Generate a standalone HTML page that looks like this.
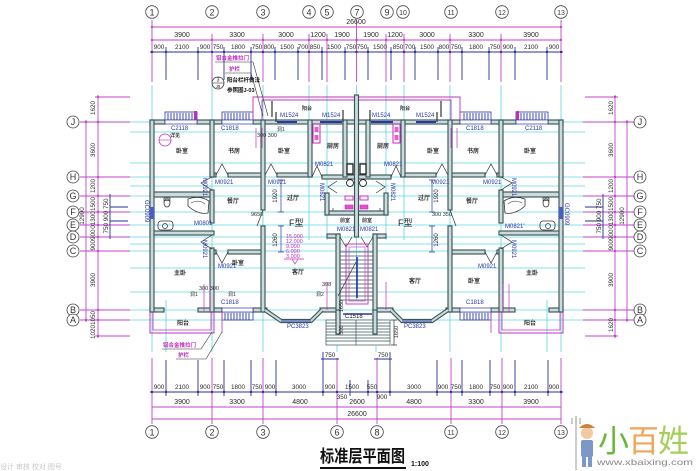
<!DOCTYPE html>
<html><head><meta charset="utf-8"><style>
html,body{margin:0;padding:0;background:#fff;}
svg{display:block;}
.w rect{fill:#cbdbdc;stroke:#3a5558;stroke-width:1.15;}
.c line{stroke:#5fd6de;stroke-width:0.8;}
.m{stroke:#c044c8;stroke-width:0.9;fill:none;}
.b{stroke:#2a2f95;stroke-width:0.9;fill:none;}
.d{stroke:#333;stroke-width:0.7;fill:none;}
text{font-family:"Liberation Sans","Noto Sans CJK SC",sans-serif;}
.n{font-size:7px;fill:#2a2a2a;}
.bl{font-size:6px;fill:#2838a8;}
.r{font-size:6px;fill:#333;font-weight:bold;font-family:"Noto Sans CJK SC",sans-serif;}
.mt{font-size:5.5px;fill:#c030c0;font-weight:bold;font-family:"Noto Sans CJK SC",sans-serif;}
.ax{font-size:9px;fill:#333;font-family:"Liberation Serif",serif;}
</style></head><body>
<svg width="700" height="471" viewBox="0 0 700 471" xmlns="http://www.w3.org/2000/svg">
<rect width="700" height="471" fill="#fff"/>

<!-- cyan axis grid -->
<g class="c">
<line x1="152" y1="85" x2="152" y2="352"/><line x1="212" y1="85" x2="212" y2="352"/><line x1="263" y1="85" x2="263" y2="352"/>
<line x1="309" y1="85" x2="309" y2="240"/><line x1="327" y1="85" x2="327" y2="240"/><line x1="337" y1="240" x2="337" y2="352"/>
<line x1="356.5" y1="85" x2="356.5" y2="300"/><line x1="376" y1="240" x2="376" y2="352"/>
<line x1="386" y1="85" x2="386" y2="240"/><line x1="404" y1="85" x2="404" y2="240"/>
<line x1="450" y1="85" x2="450" y2="352"/><line x1="501" y1="85" x2="501" y2="352"/><line x1="561" y1="85" x2="561" y2="352"/>
<line x1="166" y1="300" x2="166" y2="352"/><line x1="547" y1="300" x2="547" y2="352"/>
<line x1="130" y1="122" x2="585" y2="122"/><line x1="130" y1="177" x2="585" y2="177"/><line x1="130" y1="196" x2="585" y2="196"/>
<line x1="130" y1="212" x2="585" y2="212"/><line x1="130" y1="225" x2="585" y2="225"/><line x1="130" y1="237" x2="585" y2="237"/>
<line x1="130" y1="251" x2="585" y2="251"/><line x1="130" y1="310" x2="585" y2="310"/><line x1="130" y1="320" x2="585" y2="320"/>
<line x1="130" y1="132" x2="585" y2="132"/><line x1="130" y1="163" x2="585" y2="163"/><line x1="130" y1="186" x2="585" y2="186"/>
<line x1="130" y1="244" x2="585" y2="244"/><line x1="130" y1="268" x2="585" y2="268"/><line x1="130" y1="292" x2="585" y2="292"/>
</g>

<!-- ========== TOP DIMENSIONS ========== -->
<g class="m">
<line x1="152" y1="27" x2="561" y2="27"/><line x1="152" y1="40" x2="561" y2="40"/>
<line x1="152" y1="20" x2="152" y2="82"/><line x1="212" y1="34" x2="212" y2="82"/><line x1="263" y1="34" x2="263" y2="82"/>
<line x1="309" y1="34" x2="309" y2="82"/><line x1="327" y1="34" x2="327" y2="82"/><line x1="356.5" y1="20" x2="356.5" y2="82"/>
<line x1="386" y1="34" x2="386" y2="82"/><line x1="404" y1="34" x2="404" y2="82"/><line x1="450" y1="34" x2="450" y2="82"/>
<line x1="501" y1="34" x2="501" y2="82"/><line x1="561" y1="20" x2="561" y2="82"/>
</g>
<g class="b">
<line x1="150" y1="52" x2="563" y2="52"/>
<line x1="166" y1="47" x2="166" y2="80"/><line x1="198" y1="47" x2="198" y2="80"/><line x1="224" y1="47" x2="224" y2="80"/>
<line x1="251" y1="47" x2="251" y2="80"/><line x1="275" y1="47" x2="275" y2="80"/><line x1="298" y1="47" x2="298" y2="80"/>
<line x1="322" y1="47" x2="322" y2="80"/><line x1="345" y1="47" x2="345" y2="80"/><line x1="368" y1="47" x2="368" y2="80"/>
<line x1="391" y1="47" x2="391" y2="80"/><line x1="415" y1="47" x2="415" y2="80"/><line x1="438" y1="47" x2="438" y2="80"/>
<line x1="462" y1="47" x2="462" y2="80"/><line x1="489" y1="47" x2="489" y2="80"/><line x1="515" y1="47" x2="515" y2="80"/>
<line x1="547" y1="47" x2="547" y2="80"/>
</g>
<g fill="#2a2f95">
<circle cx="152" cy="52" r="1.2"/><circle cx="166" cy="52" r="1.2"/><circle cx="198" cy="52" r="1.2"/><circle cx="212" cy="52" r="1.2"/><circle cx="224" cy="52" r="1.2"/><circle cx="251" cy="52" r="1.2"/><circle cx="263" cy="52" r="1.2"/><circle cx="275" cy="52" r="1.2"/><circle cx="298" cy="52" r="1.2"/><circle cx="309" cy="52" r="1.2"/><circle cx="322" cy="52" r="1.2"/><circle cx="345" cy="52" r="1.2"/><circle cx="356.5" cy="52" r="1.2"/><circle cx="368" cy="52" r="1.2"/><circle cx="391" cy="52" r="1.2"/><circle cx="404" cy="52" r="1.2"/><circle cx="415" cy="52" r="1.2"/><circle cx="438" cy="52" r="1.2"/><circle cx="450" cy="52" r="1.2"/><circle cx="462" cy="52" r="1.2"/><circle cx="489" cy="52" r="1.2"/><circle cx="501" cy="52" r="1.2"/><circle cx="515" cy="52" r="1.2"/><circle cx="547" cy="52" r="1.2"/><circle cx="561" cy="52" r="1.2"/>
</g>
<g fill="#c044c8">
<circle cx="152" cy="40" r="1.2"/><circle cx="212" cy="40" r="1.2"/><circle cx="263" cy="40" r="1.2"/><circle cx="309" cy="40" r="1.2"/><circle cx="327" cy="40" r="1.2"/><circle cx="356.5" cy="40" r="1.2"/><circle cx="386" cy="40" r="1.2"/><circle cx="404" cy="40" r="1.2"/><circle cx="450" cy="40" r="1.2"/><circle cx="501" cy="40" r="1.2"/><circle cx="561" cy="40" r="1.2"/><circle cx="152" cy="27" r="1.2"/><circle cx="561" cy="27" r="1.2"/>
</g>
<text class="n" x="356" y="24" text-anchor="middle">26600</text>
<g class="n" text-anchor="middle">
<text x="182" y="37">3900</text><text x="237" y="37">3300</text><text x="286" y="37">3000</text><text x="318" y="37">1200</text><text x="342" y="37">1900</text>
<text x="371" y="37">1900</text><text x="395" y="37">1200</text><text x="427" y="37">3000</text><text x="476" y="37">3300</text><text x="531" y="37">3900</text>
</g>
<g class="n" text-anchor="middle" font-size="6.3">
<text x="159" y="49" font-size="6.3">900</text><text x="182" y="49" font-size="6.3">2100</text><text x="205" y="49" font-size="6.3">900</text><text x="218" y="49" font-size="6.3">750</text>
<text x="238" y="49" font-size="6.3">1800</text><text x="257" y="49" font-size="6.3">750</text><text x="269" y="49" font-size="6.3">800</text><text x="287" y="49" font-size="6.3">1500</text>
<text x="303" y="49" font-size="6.3">700</text><text x="315" y="49" font-size="6.3">850</text><text x="334" y="49" font-size="6.3">1500</text><text x="351" y="49" font-size="6.3">750</text>
<text x="362" y="49" font-size="6.3">750</text><text x="380" y="49" font-size="6.3">1500</text><text x="398" y="49" font-size="6.3">850</text><text x="410" y="49" font-size="6.3">700</text>
<text x="427" y="49" font-size="6.3">1500</text><text x="444" y="49" font-size="6.3">800</text><text x="456" y="49" font-size="6.3">750</text><text x="476" y="49" font-size="6.3">1800</text>
<text x="495" y="49" font-size="6.3">750</text><text x="508" y="49" font-size="6.3">900</text><text x="531" y="49" font-size="6.3">2100</text><text x="554" y="49" font-size="6.3">900</text>
</g>
<!-- top axis circles -->
<g fill="#fff" stroke="#444" stroke-width="0.8">
<circle cx="152" cy="12" r="6.3"/><circle cx="212" cy="12" r="6.3"/><circle cx="263" cy="12" r="6.3"/><circle cx="309" cy="12" r="6.3"/><circle cx="327" cy="12" r="6.3"/><circle cx="357" cy="12" r="6.3"/>
<circle cx="387" cy="12" r="6.3"/><circle cx="403" cy="12" r="6.3"/><circle cx="451" cy="12" r="6.3"/><circle cx="502" cy="12" r="6.3"/><circle cx="561" cy="12" r="6.3"/>
</g>
<g class="ax" text-anchor="middle">
<text x="152" y="15.5">1</text><text x="212" y="15.5">2</text><text x="263" y="15.5">3</text><text x="309" y="15.5">4</text><text x="327" y="15.5">5</text><text x="357" y="15.5">7</text>
<text x="387" y="15.5">9</text><text x="403" y="15" font-size="7">10</text><text x="451" y="15" font-size="7">11</text><text x="502" y="15" font-size="7">12</text><text x="561" y="15" font-size="7">13</text>
</g>

<!-- ========== LEFT / RIGHT DIMENSIONS ========== -->
<g class="m">
<line x1="80" y1="122" x2="130" y2="122"/><line x1="80" y1="177" x2="130" y2="177"/><line x1="80" y1="196" x2="130" y2="196"/>
<line x1="80" y1="212" x2="130" y2="212"/><line x1="80" y1="225" x2="130" y2="225"/><line x1="80" y1="237" x2="130" y2="237"/>
<line x1="80" y1="251" x2="130" y2="251"/><line x1="80" y1="310" x2="130" y2="310"/><line x1="80" y1="320" x2="130" y2="320"/>
<line x1="95" y1="97" x2="130" y2="97"/><line x1="95" y1="336" x2="130" y2="336"/>
<line x1="98" y1="95" x2="98" y2="338"/><line x1="86" y1="120" x2="86" y2="322"/>
<line x1="583" y1="122" x2="634" y2="122"/><line x1="583" y1="177" x2="634" y2="177"/><line x1="583" y1="196" x2="634" y2="196"/>
<line x1="583" y1="212" x2="634" y2="212"/><line x1="583" y1="225" x2="634" y2="225"/><line x1="583" y1="237" x2="634" y2="237"/>
<line x1="583" y1="251" x2="634" y2="251"/><line x1="583" y1="310" x2="634" y2="310"/><line x1="583" y1="320" x2="634" y2="320"/>
<line x1="585" y1="97" x2="618" y2="97"/><line x1="585" y1="336" x2="618" y2="336"/>
<line x1="615" y1="95" x2="615" y2="338"/><line x1="627" y1="120" x2="627" y2="322"/>
</g>
<g class="b">
<line x1="110" y1="194" x2="110" y2="239"/><line x1="110" y1="207" x2="128" y2="207"/><line x1="110" y1="221" x2="128" y2="221"/>
<line x1="603" y1="194" x2="603" y2="239"/><line x1="585" y1="207" x2="603" y2="207"/><line x1="585" y1="221" x2="603" y2="221"/>
</g>
<g fill="#c044c8">
<circle cx="98" cy="97" r="1.2"/><circle cx="98" cy="122" r="1.2"/><circle cx="98" cy="177" r="1.2"/><circle cx="98" cy="196" r="1.2"/><circle cx="98" cy="212" r="1.2"/><circle cx="98" cy="225" r="1.2"/><circle cx="98" cy="237" r="1.2"/><circle cx="98" cy="251" r="1.2"/><circle cx="98" cy="310" r="1.2"/><circle cx="98" cy="320" r="1.2"/><circle cx="98" cy="336" r="1.2"/>
<circle cx="86" cy="122" r="1.2"/><circle cx="86" cy="320" r="1.2"/>
<circle cx="615" cy="97" r="1.2"/><circle cx="615" cy="122" r="1.2"/><circle cx="615" cy="177" r="1.2"/><circle cx="615" cy="196" r="1.2"/><circle cx="615" cy="212" r="1.2"/><circle cx="615" cy="225" r="1.2"/><circle cx="615" cy="237" r="1.2"/><circle cx="615" cy="251" r="1.2"/><circle cx="615" cy="310" r="1.2"/><circle cx="615" cy="320" r="1.2"/><circle cx="615" cy="336" r="1.2"/>
<circle cx="627" cy="122" r="1.2"/><circle cx="627" cy="320" r="1.2"/>
</g>
<g class="n" text-anchor="middle" font-size="6.3">
<text transform="rotate(-90 95 108)" x="95" y="108" font-size="6.3">1620</text>
<text transform="rotate(-90 95 150)" x="95" y="150" font-size="6.3">3600</text>
<text transform="rotate(-90 95 186)" x="95" y="186" font-size="6.3">1200</text>
<text transform="rotate(-90 95 204)" x="95" y="204" font-size="6.3">1500</text>
<text transform="rotate(-90 95 220)" x="95" y="220" font-size="6.3">01300</text>
<text transform="rotate(-90 95 240)" x="95" y="240" font-size="6.3">900900</text>
<text transform="rotate(-90 95 280)" x="95" y="280" font-size="6.3">3900</text>
<text transform="rotate(-90 95 325)" x="95" y="325" font-size="6.3">10201050</text>
<text transform="rotate(-90 84 216)" x="84" y="216" font-size="6.3">12900</text>
<text transform="rotate(-90 108 216)" x="108" y="216" font-size="6.3">750 900 750</text>
<text transform="rotate(-90 613 108)" x="613" y="108" font-size="6.3">1620</text>
<text transform="rotate(-90 613 150)" x="613" y="150" font-size="6.3">3600</text>
<text transform="rotate(-90 613 186)" x="613" y="186" font-size="6.3">1200</text>
<text transform="rotate(-90 613 204)" x="613" y="204" font-size="6.3">1500</text>
<text transform="rotate(-90 613 220)" x="613" y="220" font-size="6.3">01300</text>
<text transform="rotate(-90 613 240)" x="613" y="240" font-size="6.3">900900</text>
<text transform="rotate(-90 613 280)" x="613" y="280" font-size="6.3">3900</text>
<text transform="rotate(-90 613 325)" x="613" y="325" font-size="6.3">1620</text>
<text transform="rotate(-90 624 216)" x="624" y="216" font-size="6.3">12900</text>
<text transform="rotate(-90 601 216)" x="601" y="216" font-size="6.3">750 900 750</text>
</g>
<g fill="#fff" stroke="#444" stroke-width="0.8">
<circle cx="73" cy="122" r="6"/><circle cx="73" cy="177" r="6"/><circle cx="73" cy="196" r="6"/><circle cx="73" cy="212" r="6"/><circle cx="73" cy="225" r="6"/><circle cx="73" cy="237" r="6"/><circle cx="73" cy="251" r="6"/><circle cx="73" cy="310" r="6"/><circle cx="73" cy="320" r="6"/>
<circle cx="640" cy="122" r="6"/><circle cx="640" cy="177" r="6"/><circle cx="640" cy="196" r="6"/><circle cx="640" cy="212" r="6"/><circle cx="640" cy="225" r="6"/><circle cx="640" cy="237" r="6"/><circle cx="640" cy="251" r="6"/><circle cx="640" cy="310" r="6"/><circle cx="640" cy="320" r="6"/>
</g>
<g class="ax" text-anchor="middle" font-size="8.5">
<text x="73" y="125">J</text><text x="73" y="180">H</text><text x="73" y="199">G</text><text x="73" y="215">F</text><text x="73" y="228">E</text><text x="73" y="240">D</text><text x="73" y="254">C</text><text x="73" y="313">B</text><text x="73" y="323">A</text>
<text x="640" y="125">J</text><text x="640" y="180">H</text><text x="640" y="199">G</text><text x="640" y="215">F</text><text x="640" y="228">E</text><text x="640" y="240">D</text><text x="640" y="254">C</text><text x="640" y="313">B</text><text x="640" y="323">A</text>
</g>

<!-- ========== BOTTOM DIMENSIONS ========== -->
<g class="m">
<line x1="152" y1="407" x2="561" y2="407"/><line x1="152" y1="419" x2="561" y2="419"/>
<line x1="152" y1="358" x2="152" y2="424"/><line x1="212" y1="358" x2="212" y2="424"/><line x1="263" y1="358" x2="263" y2="424"/>
<line x1="337" y1="358" x2="337" y2="424"/><line x1="377" y1="358" x2="377" y2="424"/><line x1="451" y1="358" x2="451" y2="424"/>
<line x1="502" y1="358" x2="502" y2="424"/><line x1="561" y1="358" x2="561" y2="424"/>
</g>
<g class="b">
<line x1="150" y1="392" x2="563" y2="392"/>
<line x1="166" y1="360" x2="166" y2="396"/><line x1="198" y1="360" x2="198" y2="396"/><line x1="224" y1="360" x2="224" y2="396"/>
<line x1="251" y1="360" x2="251" y2="396"/><line x1="276" y1="360" x2="276" y2="396"/><line x1="323" y1="352" x2="323" y2="396"/>
<line x1="350" y1="380" x2="350" y2="396"/><line x1="368" y1="380" x2="368" y2="396"/><line x1="390" y1="352" x2="390" y2="396"/>
<line x1="437" y1="360" x2="437" y2="396"/><line x1="462" y1="360" x2="462" y2="396"/><line x1="490" y1="360" x2="490" y2="396"/>
<line x1="515" y1="360" x2="515" y2="396"/><line x1="548" y1="360" x2="548" y2="396"/>
<line x1="321" y1="359" x2="339" y2="359"/><line x1="374" y1="359" x2="392" y2="359"/>
</g>
<g fill="#2a2f95">
<circle cx="152" cy="392" r="1.2"/><circle cx="166" cy="392" r="1.2"/><circle cx="198" cy="392" r="1.2"/><circle cx="212" cy="392" r="1.2"/><circle cx="224" cy="392" r="1.2"/><circle cx="251" cy="392" r="1.2"/><circle cx="263" cy="392" r="1.2"/><circle cx="276" cy="392" r="1.2"/><circle cx="323" cy="392" r="1.2"/><circle cx="337" cy="392" r="1.2"/><circle cx="368" cy="392" r="1.2"/><circle cx="377" cy="392" r="1.2"/><circle cx="390" cy="392" r="1.2"/><circle cx="437" cy="392" r="1.2"/><circle cx="451" cy="392" r="1.2"/><circle cx="462" cy="392" r="1.2"/><circle cx="490" cy="392" r="1.2"/><circle cx="502" cy="392" r="1.2"/><circle cx="515" cy="392" r="1.2"/><circle cx="548" cy="392" r="1.2"/><circle cx="561" cy="392" r="1.2"/>
</g>
<g class="n" text-anchor="middle" font-size="6.3">
<text x="159" y="389" font-size="6.3">900</text><text x="182" y="389" font-size="6.3">2100</text><text x="205" y="389" font-size="6.3">900</text><text x="218" y="389" font-size="6.3">750</text>
<text x="238" y="389" font-size="6.3">1800</text><text x="257" y="389" font-size="6.3">750</text><text x="270" y="389" font-size="6.3">900</text><text x="299" y="389" font-size="6.3">3000</text>
<text x="330" y="389" font-size="6.3">900</text><text x="352" y="389" font-size="6.3">1500</text><text x="372" y="389" font-size="6.3">550</text><text x="382" y="399" font-size="6.3">900</text><text x="342" y="399" font-size="6.3">350</text>
<text x="414" y="389" font-size="6.3">3000</text><text x="443" y="389" font-size="6.3">900</text><text x="456" y="389" font-size="6.3">750</text><text x="476" y="389" font-size="6.3">1800</text>
<text x="495" y="389" font-size="6.3">750</text><text x="508" y="389" font-size="6.3">900</text><text x="531" y="389" font-size="6.3">2100</text><text x="554" y="389" font-size="6.3">900</text>
<text x="330" y="357" font-size="6.3">750</text><text x="383" y="357" font-size="6.3">750</text>
</g>
<g class="n" text-anchor="middle">
<text x="182" y="404">3900</text><text x="237" y="404">3300</text><text x="300" y="404">4800</text><text x="357" y="404">2600</text>
<text x="414" y="404">4800</text><text x="476" y="404">3300</text><text x="531" y="404">3900</text><text x="357" y="416">26600</text>
</g>
<g fill="#fff" stroke="#444" stroke-width="0.8">
<circle cx="152" cy="432" r="6.3"/><circle cx="212" cy="432" r="6.3"/><circle cx="263" cy="432" r="6.3"/><circle cx="337" cy="432" r="6.3"/>
<circle cx="377" cy="432" r="6.3"/><circle cx="451" cy="432" r="6.3"/><circle cx="502" cy="432" r="6.3"/><circle cx="561" cy="432" r="6.3"/>
</g>
<g class="ax" text-anchor="middle">
<text x="152" y="435.5">1</text><text x="212" y="435.5">2</text><text x="263" y="435.5">3</text><text x="337" y="435.5">6</text>
<text x="377" y="435.5">8</text><text x="451" y="435" font-size="7">11</text><text x="502" y="435" font-size="7">12</text><text x="561" y="435" font-size="7">13</text>
</g>

<!-- ========== PLAN GEOMETRY (left half, mirrored) ========== -->
<defs>
<g id="half">
 <g stroke="#2838a8" stroke-width="0.8" fill="#fff">
  <rect x="165" y="112" width="32" height="8"/><rect x="222" y="112" width="31" height="8"/>
  <rect x="222" y="312" width="31" height="8"/>
 </g>
 <g stroke="#2838a8" stroke-width="0.9">
  <path d="M168 113v7M171 113v7M174 113v7M177 113v7M180 113v7M183 113v7M186 113v7M189 113v7M192 113v7"/>
  <path d="M225 113v7M228 113v7M231 113v7M234 113v7M237 113v7M240 113v7M243 113v7M246 113v7M249 113v7"/>
  <path d="M225 313v7M228 313v7M231 313v7M234 313v7M237 313v7M240 313v7M243 313v7M246 313v7M249 313v7"/>
 </g>
 <rect x="194" y="111" width="3" height="11" fill="#c030c0"/>
 <g class="w">
  <rect x="150" y="120" width="15" height="4"/><rect x="197" y="120" width="25" height="4"/><rect x="253" y="120" width="104" height="4"/>
  <rect x="150" y="192" width="64" height="5"/><rect x="150" y="231" width="64" height="4"/>
  <rect x="210" y="173" width="6" height="4"/><rect x="228" y="173" width="37" height="4"/><rect x="277" y="173" width="35" height="4"/>
  <rect x="322" y="175" width="34" height="4"/><rect x="325" y="211" width="31" height="4"/>
  <rect x="210" y="250" width="6" height="4"/><rect x="228" y="250" width="37" height="4"/>
  <rect x="327" y="234" width="13" height="4"/>
  <rect x="150" y="308" width="14" height="4"/><rect x="198" y="308" width="24" height="4"/><rect x="253" y="308" width="14" height="4"/><rect x="320" y="308" width="20" height="4"/>
  <rect x="150" y="120" width="4" height="192"/>
  <rect x="210" y="120" width="4" height="57"/><rect x="210" y="190" width="4" height="33"/><rect x="210" y="248" width="4" height="64"/>
  <rect x="261" y="120" width="4" height="90"/><rect x="261" y="226" width="4" height="86"/>
  <rect x="308" y="120" width="4" height="57"/><rect x="343" y="120" width="4" height="57"/>
  <rect x="325" y="193" width="4" height="22"/>
  <rect x="336" y="234" width="4" height="98"/>
 </g>
 <g fill="#fff" stroke="#2838a8" stroke-width="0.7">
  <rect x="165" y="120" width="32" height="4"/><rect x="222" y="120" width="31" height="4"/><rect x="222" y="308" width="31" height="4"/>
 </g>
 <rect x="150" y="207" width="4" height="12" fill="#4a5cc8"/>
 <path d="M277 122h20M320 122h22" stroke="#2838a8" stroke-width="2"/>
 <path d="M276 112v10M343 110v12" stroke="#333" stroke-width="1.2"/>
 <path d="M265 310 L281 321 L311 321 L322 310" fill="none" stroke="#3a5558" stroke-width="4.2"/>
 <path d="M265 310 L281 321 L311 321 L322 310" fill="none" stroke="#cbdbdc" stroke-width="2"/>
 <path d="M281 321 L311 321" stroke="#2838a8" stroke-width="1"/>
 <g class="d">
  <path d="M216 175 L222 164 L228 175"/><path d="M265 175 L271 164 L277 175"/><path d="M312 177 L317 166 L322 177"/>
  <path d="M212 177 L201 183 L212 190"/><path d="M212 235 L201 242 L212 249"/><path d="M216 252 L222 263 L228 252"/>
  <path d="M337 181 L328 187 L337 193"/><path d="M340 237 L346 247 L352 237"/><path d="M263 210 L257 226"/>
 </g>
 <ellipse cx="167" cy="203" rx="3" ry="4" fill="none" stroke="#333" stroke-width="0.8"/>
 <rect x="164" y="198" width="6" height="2.5" fill="none" stroke="#333" stroke-width="0.7"/>
 <rect x="158" y="221" width="15" height="9" rx="3" fill="none" stroke="#333" stroke-width="0.8"/>
 <circle cx="165" cy="226" r="2.5" fill="none" stroke="#333" stroke-width="0.7"/>
 <path d="M188 199 Q200 195 209 201 L208 213 Q198 215 188 206 Z" fill="#fff" stroke="#333" stroke-width="0.8"/>
 <path d="M191 203 Q199 199 205 204" fill="none" stroke="#555" stroke-width="0.6"/>
 <rect x="313" y="124" width="7" height="19" fill="none" stroke="#d020c0" stroke-width="1"/>
 <rect x="314.5" y="127" width="4" height="5" fill="#e060d0"/><rect x="314.5" y="135" width="4" height="5" fill="#e060d0"/>
 <rect x="347" y="164" width="6" height="10" fill="#fff" stroke="#222" stroke-width="1.3"/>
 <circle cx="350" cy="183" r="3.5" fill="#fff" stroke="#222" stroke-width="0.9"/>
 <rect x="345" y="196" width="8" height="4" fill="none" stroke="#d020c0" stroke-width="0.9"/>
 <rect x="345" y="205" width="8" height="4" fill="#e050d0" stroke="#d020c0" stroke-width="0.6"/>
 <path d="M333 208v3" stroke="#333" stroke-width="0.7"/>
 <path d="M150 312 V333 H214 V312" fill="none" stroke="#c030c0" stroke-width="1"/>
 <path d="M153 312 V330 H211 V312" fill="none" stroke="#c030c0" stroke-width="0.8"/>
 <path d="M222 312 V333" stroke="#c030c0" stroke-width="0.8"/>
 <path d="M253 120 V97 H357" fill="none" stroke="#c030c0" stroke-width="0.9"/>
 <path d="M262 120 V100 H357" fill="none" stroke="#c030c0" stroke-width="0.9"/>
 <path d="M272 101 V117" stroke="#333" stroke-width="1.2"/>
 <path d="M281 180 V212 M281 226 V252" stroke="#2838a8" stroke-width="0.7"/>
 <path d="M278 180 H284 M278 212 H284 M278 226 H284 M278 252 H284" stroke="#2838a8" stroke-width="0.7"/>
 <path d="M204 284 V312 M210 284 V312 M327 282 V310" stroke="#c030c0" stroke-width="0.7"/>
 <path d="M256 128 V148 M262 128 V148" stroke="#c030c0" stroke-width="0.7"/>
</g>
</defs>
<use href="#half"/>
<use href="#half" transform="translate(713,0) scale(-1,1)"/>

<!-- detail callout in top-left bedroom only -->
<circle cx="165" cy="140" r="6" fill="none" stroke="#c030c0" stroke-width="0.8"/>
<path d="M159 140 H171" stroke="#c030c0" stroke-width="0.6"/>

<rect x="354.5" y="95" width="4" height="142" fill="#cbdbdc" stroke="#3a5558" stroke-width="1.15"/>

<!-- stair -->
<g stroke="#3a5558" stroke-width="0.7">
<path d="M340 252H373M340 256H373M340 260H373M340 264H373M340 268H373M340 272H373M340 276H373M340 280H373M340 284H373M340 288H373M340 292H373M340 296H373M340 300H373"/>
</g>
<rect x="346" y="244" width="22" height="60" fill="none" stroke="#c030c0" stroke-width="0.9"/>
<rect x="349" y="247" width="16" height="54" fill="none" stroke="#c030c0" stroke-width="0.6"/>
<path d="M357 257V298" stroke="#2030c0" stroke-width="1.6"/>
<path d="M338 296 L356 262" stroke="#333" stroke-width="0.7"/>
<g stroke="#3a5558" stroke-width="0.7" fill="none">
<rect x="326" y="320" width="64" height="25" fill="#fff"/>
<path d="M326 323H390M326 326H390M326 329H390M326 332H390M326 335H390M326 338H390M326 341H390M356 320V345"/>
</g>
<rect x="336" y="310" width="4" height="24" fill="#cbdbdc" stroke="#3a5558" stroke-width="1.15"/>
<rect x="373" y="310" width="4" height="24" fill="#cbdbdc" stroke="#3a5558" stroke-width="1.15"/>
<path d="M343 314 H372" stroke="#2838a8" stroke-width="1.5"/>
<path d="M394 320 V345 M391 320 H397 M391 345 H397" stroke="#333" stroke-width="0.7"/>

<!-- ========== LABELS ========== -->
<g class="bl">
<text x="171" y="130">C2118</text><text x="221" y="130">C1818</text><text x="280" y="117">M1524</text><text x="322" y="117">M1524</text>
<text x="372" y="117">M1524</text><text x="416" y="117">M1524</text><text x="466" y="130">C1818</text><text x="525" y="130">C2118</text>
<text x="215" y="184">M0921</text><text x="268" y="184">M0921</text><text x="315" y="166">M0821</text><text x="384" y="166">M0821</text>
<text x="431" y="184">M0921</text><text x="483" y="184">M0921</text>
<text x="194" y="225">M0801</text><text x="505" y="228">M0821'</text>
<text x="218" y="268">M0921</text><text x="478" y="268">M0921</text>
<text x="337" y="231">M0821</text><text x="360" y="231">M0821</text>
<text x="221" y="304">C1818</text><text x="466" y="304">C1818</text>
<text x="287" y="328">PC3823</text><text x="404" y="328">PC3823</text>
<text x="345" y="318" fill="#222">C1518</text>
<text transform="rotate(90 145 200)" x="145" y="200">GC0909</text>
<text transform="rotate(90 565 203)" x="565" y="203">GC0909</text>
<text transform="rotate(90 203 178)" x="203" y="178">M0921</text>
<text transform="rotate(90 203 240)" x="203" y="240">M0921</text>
<text transform="rotate(90 320 183)" x="320" y="183">M0821</text>
<text transform="rotate(90 391 183)" x="391" y="183">M0821</text>
<text transform="rotate(90 512 178)" x="512" y="178">M0921</text>
<text transform="rotate(90 512 240)" x="512" y="240">M0921</text>
</g>
<g class="n" font-size="6">
<text transform="rotate(-90 277 196)" x="277" y="196" text-anchor="middle" font-size="6">1920</text>
<text transform="rotate(-90 277 240)" x="277" y="240" text-anchor="middle" font-size="6">1260</text>
<text transform="rotate(-90 438 196)" x="438" y="196" text-anchor="middle" font-size="6">1920</text>
<text transform="rotate(-90 438 240)" x="438" y="240" text-anchor="middle" font-size="6">1260</text>
<text transform="rotate(-90 343 306)" x="343" y="306" text-anchor="middle" font-size="5.5">1650</text>
<text transform="rotate(-90 343 330)" x="343" y="330" text-anchor="middle" font-size="5.5">300</text>
<text transform="rotate(-90 398 332)" x="398" y="332" text-anchor="middle" font-size="5.5">1650</text>
<text x="251" y="216" font-size="5.5">9650</text><text x="432" y="216" font-size="5.5">300 350</text>
<text x="257" y="137" font-size="5.5">300 300</text><text x="199" y="290" font-size="5.5">300 300</text><text x="322" y="286" font-size="5.5">308</text>
<text x="190" y="296" font-size="5">洞1</text><text x="228" y="296" font-size="5">洞1</text><text x="316" y="296" font-size="5">洞2</text><text x="277" y="131" font-size="5">洞1</text>
</g>
<g class="r">
<text x="176" y="153">卧室</text><text x="228" y="153">书房</text><text x="278" y="153">卧室</text><text x="327" y="148">厨房</text>
<text x="377" y="148">厨房</text><text x="427" y="153">卧室</text><text x="467" y="153">书房</text><text x="524" y="153">卧室</text>
<text x="227" y="203">餐厅</text><text x="287" y="200">过厅</text><text x="418" y="200">过厅</text><text x="466" y="203">餐厅</text>
<text x="174" y="275">主卧</text><text x="232" y="265">卧室</text><text x="292" y="274">客厅</text>
<text x="409" y="283">客厅</text><text x="468" y="283">卧室</text><text x="526" y="275">主卧</text>
<text x="177" y="325">阳台</text><text x="524" y="325">阳台</text>
<text x="340" y="222" font-size="5">前室</text><text x="362" y="222" font-size="5">前室</text>
<text x="302" y="110" font-size="5">阳台</text><text x="400" y="110" font-size="5">阳台</text>
<text x="170" y="137" font-size="5">详见</text>
</g>
<text x="289" y="226" font-size="9" fill="#222" font-family="Noto Sans CJK SC, sans-serif">F型</text>
<text x="398" y="226" font-size="9" fill="#222" font-family="Noto Sans CJK SC, sans-serif">F型</text>
<g fill="#c030c0" font-size="5.5" font-family="Liberation Sans, sans-serif">
<text x="286" y="238">15.000</text><text x="286" y="243">12.000</text><text x="286" y="248">9.000</text><text x="286" y="253">6.000</text><text x="286" y="258">3.000</text>
</g>
<path d="M284 259 H304 M292 259 L295 264 L298 259" stroke="#c030c0" stroke-width="0.7" fill="none"/>

<!-- top annotation -->
<g class="mt">
<text x="216" y="60">铝合金推拉门</text><text x="229" y="71">护栏</text>
</g>
<path d="M215 62 H253 L268 116 M225 73 H251 L263 116" stroke="#333" stroke-width="0.6" fill="none"/>
<circle cx="218" cy="83" r="6" fill="#fff" stroke="#333" stroke-width="0.8"/>
<path d="M212 83 H224" stroke="#333" stroke-width="0.6"/>
<text x="218" y="81.5" font-size="5" text-anchor="middle" fill="#222">3</text>
<text x="218" y="88" font-size="4.5" text-anchor="middle" fill="#222">J5</text>
<text x="227" y="82" font-size="5.5" fill="#111" font-weight="bold" font-family="Noto Sans CJK SC, sans-serif">阳台栏杆做法</text>
<text x="227" y="92" font-size="5.5" fill="#111" font-weight="bold" font-family="Noto Sans CJK SC, sans-serif">参照图J-03</text>

<!-- bottom-left annotation -->
<g class="mt">
<text x="163" y="347">铝合金推拉门</text><text x="178" y="357">护栏</text>
</g>
<path d="M162 349 H201 L212 332 M176 359 H206 L222 332" stroke="#333" stroke-width="0.6" fill="none"/>

<!-- title -->
<text x="320" y="462" font-size="17" font-weight="bold" fill="#111" textLength="85" lengthAdjust="spacingAndGlyphs" font-family="Noto Sans CJK SC, sans-serif">标准层平面图</text>
<rect x="320" y="467" width="86" height="2" fill="#111"/>
<text x="411" y="466" font-size="7" font-weight="bold" fill="#111" font-family="Liberation Serif, serif">1:100</text>

<text x="0" y="469" font-size="7" fill="#c8c8c8">设计 审核  校对 图号</text>

<!-- watermark -->
<g>
<line x1="576" y1="418" x2="576" y2="470" stroke="#aaa" stroke-width="1.2"/>
<path d="M572 418 v6 M576 416 v8 M580 418 v6" stroke="#999" stroke-width="1"/>
<circle cx="587" cy="433" r="6" fill="#f2c9a0"/>
<path d="M579 428 Q587 420 595 428 Z" fill="#c8843c"/>
<rect x="581" y="440" width="12" height="17" rx="2" fill="#7c98c8"/>
<rect x="582" y="457" width="4" height="10" fill="#7c98c8"/><rect x="588" y="457" width="4" height="10" fill="#7c98c8"/>
<text x="598" y="452" font-size="31" fill="#66b832" font-family="Noto Sans CJK SC, sans-serif">小</text>
<text x="628" y="452" font-size="31" fill="#f0a458" font-family="Noto Sans CJK SC, sans-serif">百</text>
<text x="658" y="452" font-size="31" fill="#a6cf58" font-family="Noto Sans CJK SC, sans-serif">姓</text>
<text x="597" y="465" font-size="8.5" fill="#888" font-family="Liberation Mono, monospace" textLength="96" lengthAdjust="spacingAndGlyphs">www.xbaixing.com</text>
</g>
</svg>
</body></html>
